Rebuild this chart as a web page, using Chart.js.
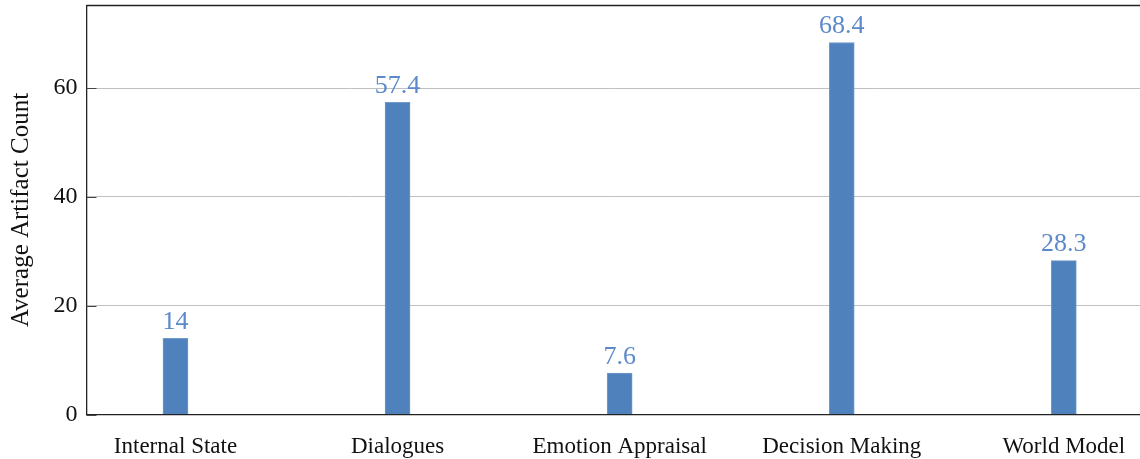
<!DOCTYPE html>
<html>
<head>
<meta charset="utf-8">
<script src="https://cdn.jsdelivr.net/npm/chart.js@4.4.0/dist/chart.umd.min.js"></script>
<style>
  html, body { margin: 0; padding: 0; background: #fff; overflow: hidden; }
</style>
</head>
<body>
<canvas id="myChart" width="1140" height="459"></canvas>
<script>
const categories = ['Internal State', 'Dialogues', 'Emotion Appraisal', 'Decision Making', 'World Model'];
const counts = [14, 57.4, 7.6, 68.4, 28.3];
const yTicks = [0, 20, 40, 60];

const serif = '"Liberation Serif", "Times New Roman", serif';

// value labels above bars + top frame line + dark tick marks
const barLabels = {
    id: 'barLabels',
    afterDatasetsDraw(chart) {
        const ctx = chart.ctx;
        const meta = chart.getDatasetMeta(0);
        ctx.save();
        ctx.fillStyle = '#5b89c9';
        ctx.font = '26px ' + serif;
        ctx.textAlign = 'center';
        ctx.textBaseline = 'bottom';
        meta.data.forEach((bar, i) => {
            ctx.fillText(String(counts[i]), bar.x, bar.y - 3);
        });
        ctx.restore();
    },
    afterDraw(chart) {
        const ctx = chart.ctx;
        const area = chart.chartArea;
        const y = chart.scales.y;
        ctx.save();
        ctx.strokeStyle = '#222';
        ctx.lineWidth = 1.3;
        ctx.beginPath();
        ctx.moveTo(area.left, area.top);
        ctx.lineTo(area.right, area.top);
        ctx.stroke();
        ctx.lineWidth = 1;
        ctx.strokeStyle = '#444';
        yTicks.forEach(v => {
            const py = Math.round(y.getPixelForValue(v)) + 0.5;
            ctx.beginPath();
            ctx.moveTo(area.left, py);
            ctx.lineTo(area.left + 10, py);
            ctx.stroke();
        });
        ctx.restore();
    }
};

const ctx = document.getElementById('myChart');
const data = {
    datasets: [{
        label: 'Average Artifact Count',
        data: counts.map((v, i) => ({ x: i, y: v })),
        backgroundColor: '#4f81bd',
        borderColor: '#7099cc',
        borderWidth: 1,
        barThickness: 25
    }]
};

new Chart(ctx, {
    type: 'bar',
    data,
    plugins: [barLabels],
    options: {
        responsive: false,
        animation: false,
        devicePixelRatio: 1,
        layout: { padding: { top: 5.5, right: 0, left: 0, bottom: 0 } },
        plugins: {
            legend: { display: false },
            tooltip: { enabled: false }
        },
        scales: {
            x: {
                type: 'linear',
                min: -0.4007,
                max: 4.343,
                offset: false,
                afterBuildTicks(scale) {
                    scale.ticks = categories.map((c, i) => ({ value: i }));
                },
                afterFit(scale) {
                    scale.height = 44.5;
                    scale.paddingLeft = 0;
                    scale.paddingRight = 0;
                },
                grid: { display: false, drawTicks: false },
                border: { display: true, color: '#222', width: 1.3 },
                ticks: {
                    autoSkip: false,
                    maxRotation: 0,
                    padding: 19,
                    color: '#111',
                    font: { family: serif, size: 23 },
                    callback: (v) => categories[v]
                }
            },
            y: {
                min: 0,
                max: 75.2,
                afterBuildTicks(scale) {
                    scale.ticks = yTicks.map(v => ({ value: v }));
                },
                afterFit(scale) {
                    scale.width = 86.5;
                    scale.paddingTop = 0;
                    scale.paddingBottom = 0;
                },
                grid: { color: '#c0c0c0', lineWidth: 1, drawTicks: false },
                border: { display: true, color: '#222', width: 1.3 },
                ticks: {
                    padding: 9,
                    color: '#111',
                    font: { family: serif, size: 24 }
                },
                title: {
                    display: true,
                    text: 'Average Artifact Count',
                    color: '#111',
                    font: { family: serif, size: 25 },
                    padding: { top: 6, bottom: 0 }
                }
            }
        }
    }
});
</script>
</body>
</html>
